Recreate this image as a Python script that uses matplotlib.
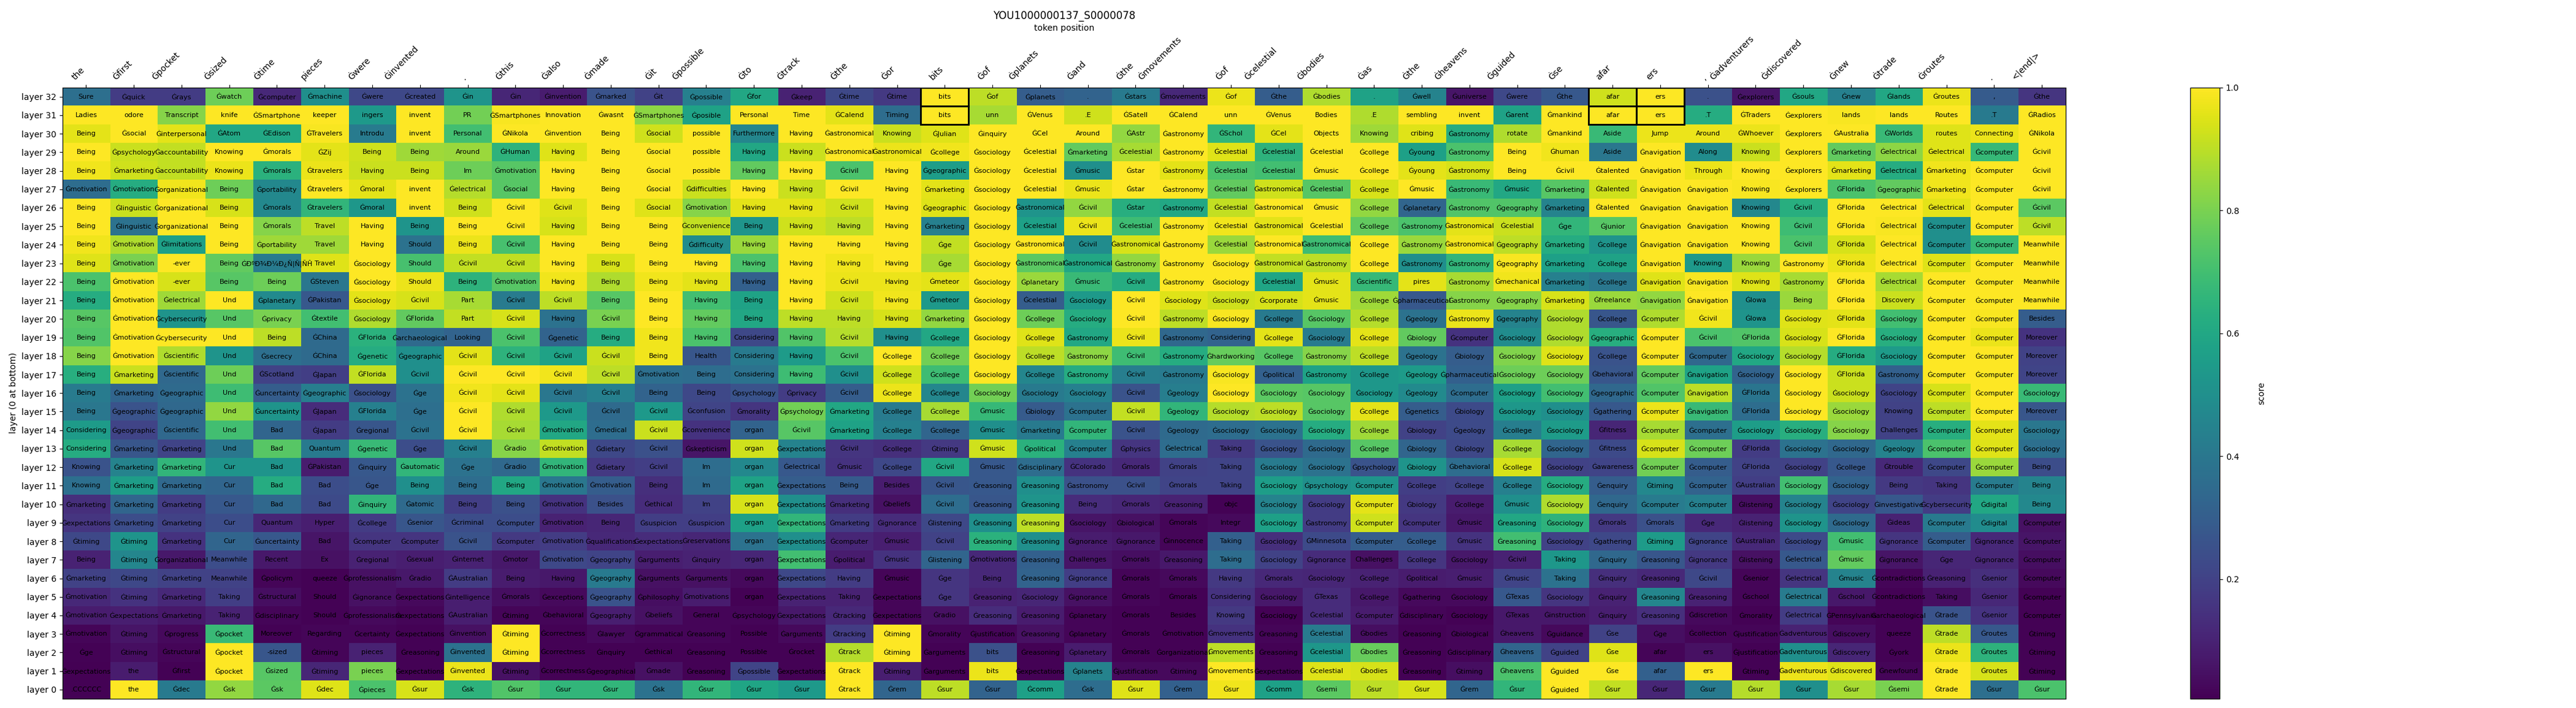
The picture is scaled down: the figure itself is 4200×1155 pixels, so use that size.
import matplotlib
matplotlib.use('Agg')
import matplotlib.pyplot as plt
import numpy as np
from matplotlib.patches import Rectangle

positions = ['the', 'Ġfirst', 'Ġpocket', 'Ġsized', 'Ġtime', 'pieces', 'Ġwere', 'Ġinvented', '.', 'Ġthis',
             'Ġalso', 'Ġmade', 'Ġit', 'Ġpossible', 'Ġto', 'Ġtrack', 'Ġthe', 'Ġor', 'bits', 'Ġof', 'Ġplanets',
             'Ġand', 'Ġthe', 'Ġmovements', 'Ġof', 'Ġcelestial', 'Ġbodies', 'Ġas', 'Ġthe', 'Ġheavens', 'Ġguided',
             'Ġse', 'afar', 'ers', ',', 'Ġadventurers', 'Ġdiscovered', 'Ġnew', 'Ġtrade', 'Ġroutes', '.', '<|end|>']
layers = [f'layer {i}' for i in range(33)]

# one list per token position, layer 32 first, layer 0 last
top_tokens = [
    ['Sure', 'Ladies', 'Being', 'Being', 'Being', 'Ġmotivation', 'Being', 'Being', 'Being', 'Being', 'Being', 'Being', 'Being', 'Being', 'Being', 'Being', 'Being', 'Being', 'Considering', 'Considering', 'Knowing', 'Knowing', 'Ġmarketing', 'Ġexpectations', 'Ġtiming', 'Being', 'Ġmarketing', 'Ġmotivation', 'Ġmotivation', 'Ġmotivation', 'Ġge', 'Ġexpectations', '.CCCCCC'],
    ['Ġquick', 'odore', 'Ġsocial', 'Ġpsychology', 'Ġmarketing', 'Ġmotivation', 'Ġlinguistic', 'Ġlinguistic', 'Ġmotivation', 'Ġmotivation', 'Ġmotivation', 'Ġmotivation', 'Ġmotivation', 'Ġmotivation', 'Ġmotivation', 'Ġmarketing', 'Ġmarketing', 'Ġgeographic', 'Ġgeographic', 'Ġmarketing', 'Ġmarketing', 'Ġmarketing', 'Ġmarketing', 'Ġmarketing', 'Ġtiming', 'Ġtiming', 'Ġtiming', 'Ġtiming', 'Ġexpectations', 'Ġtiming', 'Ġtiming', 'the', 'the'],
    ['Ġrays', 'Transcript', 'Ġinterpersonal', 'Ġaccountability', 'Ġaccountability', 'Ġorganizational', 'Ġorganizational', 'Ġorganizational', 'Ġlimitations', '-ever', '-ever', 'Ġelectrical', 'Ġcybersecurity', 'Ġcybersecurity', 'Ġscientific', 'Ġscientific', 'Ġgeographic', 'Ġgeographic', 'Ġscientific', 'Ġmarketing', 'Ġmarketing', 'Ġmarketing', 'Ġmarketing', 'Ġmarketing', 'Ġmarketing', 'Ġorganizational', 'Ġmarketing', 'Ġmarketing', 'Ġmarketing', 'Ġprogress', 'Ġstructural', 'Ġfirst', 'Ġdec'],
    ['Ġwatch', 'knife', 'ĠAtom', 'Knowing', 'Knowing', 'Being', 'Being', 'Being', 'Being', 'Being', 'Being', 'Und', 'Und', 'Und', 'Und', 'Und', 'Und', 'Und', 'Und', 'Und', 'Cur', 'Cur', 'Cur', 'Cur', 'Cur', 'Meanwhile', 'Meanwhile', 'Taking', 'Taking', 'Ġpocket', 'Ġpocket', 'Ġpocket', 'Ġsk'],
    ['Ġcomputer', 'ĠSmartphone', 'ĠEdison', 'Ġmorals', 'Ġmorals', 'Ġportability', 'Ġmorals', 'Ġmorals', 'Ġportability', 'ĠÐºÐ¾Ð¼Ð¿Ñ|Ñ|ÑĤ', 'Being', 'Ġplanetary', 'Ġprivacy', 'Being', 'Ġsecrecy', 'ĠScotland', 'Ġuncertainty', 'Ġuncertainty', 'Bad', 'Bad', 'Bad', 'Bad', 'Bad', 'Quantum', 'Ġuncertainty', 'Recent', 'Ġpolicym', 'Ġstructural', 'Ġdisciplinary', 'Moreover', '-sized', 'Ġsized', 'Ġsk'],
    ['Ġmachine', 'keeper', 'ĠTravelers', 'ĠZij', 'Ġtravelers', 'Ġtravelers', 'Ġtravelers', 'Travel', 'Travel', 'Travel', 'ĠSteven', 'ĠPakistan', 'Ġtextile', 'ĠChina', 'ĠChina', 'ĠJapan', 'Ġgeographic', 'ĠJapan', 'ĠJapan', 'Quantum', 'ĠPakistan', 'Bad', 'Bad', 'Hyper', 'Bad', 'Ex', 'queeze', 'Should', 'Should', 'Regarding', 'Ġtiming', 'Ġtiming', 'Ġdec'],
    ['Ġwere', 'ingers', 'Introdu', 'Being', 'Having', 'Ġmoral', 'Ġmoral', 'Having', 'Having', 'Ġsociology', 'Ġsociology', 'Ġsociology', 'Ġsociology', 'ĠFlorida', 'Ġgenetic', 'ĠFlorida', 'Ġsociology', 'ĠFlorida', 'Ġregional', 'Ġgenetic', 'Ġinquiry', 'Ġge', 'Ġinquiry', 'Ġcollege', 'Ġcomputer', 'Ġregional', 'Ġprofessionalism', 'Ġignorance', 'Ġprofessionalism', 'Ġcertainty', 'pieces', 'pieces', 'Ġpieces'],
    ['Ġcreated', 'invent', 'invent', 'Being', 'Being', 'invent', 'invent', 'Being', 'Should', 'Should', 'Should', 'Ġcivil', 'ĠFlorida', 'Ġarchaeological', 'Ġgeographic', 'Ġcivil', 'Ġge', 'Ġge', 'Ġcivil', 'Ġge', 'Ġautomatic', 'Being', 'Ġatomic', 'Ġsenior', 'Ġcomputer', 'Ġsexual', 'Ġradio', 'Ġexpectations', 'Ġexpectations', 'Ġexpectations', 'Ġreasoning', 'Ġexpectations', 'Ġsur'],
    ['Ġin', 'PR', 'Personal', 'Around', 'Im', 'Ġelectrical', 'Being', 'Being', 'Being', 'Ġcivil', 'Being', 'Part', 'Part', 'Looking', 'Ġcivil', 'Ġcivil', 'Ġcivil', 'Ġcivil', 'Ġcivil', 'Ġcivil', 'Ġge', 'Being', 'Being', 'Ġcriminal', 'Ġcivil', 'Ġinternet', 'ĠAustralian', 'Ġintelligence', 'ĠAustralian', 'Ġinvention', 'Ġinvented', 'Ġinvented', 'Ġsk'],
    ['Ġin', 'ĠSmartphones', 'ĠNikola', 'ĠHuman', 'Ġmotivation', 'Ġsocial', 'Ġcivil', 'Ġcivil', 'Ġcivil', 'Ġcivil', 'Ġmotivation', 'Ġcivil', 'Ġcivil', 'Ġcivil', 'Ġcivil', 'Ġcivil', 'Ġcivil', 'Ġcivil', 'Ġcivil', 'Ġradio', 'Ġradio', 'Being', 'Being', 'Ġcomputer', 'Ġcomputer', 'Ġmotor', 'Being', 'Ġmorals', 'Ġtiming', 'Ġtiming', 'Ġtiming', 'Ġtiming', 'Ġsur'],
    ['Ġinvention', 'Innovation', 'Ġinvention', 'Having', 'Having', 'Having', 'Ġcivil', 'Having', 'Having', 'Having', 'Having', 'Ġcivil', 'Having', 'Ġgenetic', 'Ġcivil', 'Ġcivil', 'Ġcivil', 'Ġcivil', 'Ġmotivation', 'Ġmotivation', 'Ġmotivation', 'Ġmotivation', 'Ġmotivation', 'Ġmotivation', 'Ġmotivation', 'Ġmotivation', 'Having', 'Ġexceptions', 'Ġbehavioral', 'Ġcorrectness', 'Ġcorrectness', 'Ġcorrectness', 'Ġsur'],
    ['Ġmarked', 'Ġwasnt', 'Being', 'Being', 'Being', 'Being', 'Being', 'Being', 'Being', 'Being', 'Being', 'Being', 'Ġcivil', 'Being', 'Ġcivil', 'Ġcivil', 'Ġcivil', 'Ġcivil', 'Ġmedical', 'Ġdietary', 'Ġdietary', 'Ġmotivation', 'Besides', 'Being', 'Ġqualifications', 'Ġgeography', 'Ġgeography', 'Ġgeography', 'Ġgeography', 'Ġlawyer', 'Ġinquiry', 'Ġgeographical', 'Ġsur'],
    ['Ġit', 'ĠSmartphones', 'Ġsocial', 'Ġsocial', 'Ġsocial', 'Ġsocial', 'Ġsocial', 'Being', 'Being', 'Being', 'Being', 'Being', 'Being', 'Being', 'Being', 'Ġmotivation', 'Being', 'Ġcivil', 'Ġcivil', 'Ġcivil', 'Ġcivil', 'Being', 'Ġethical', 'Ġsuspicion', 'Ġexpectations', 'Ġarguments', 'Ġarguments', 'Ġphilosophy', 'Ġbeliefs', 'Ġgrammatical', 'Ġethical', 'Ġmade', 'Ġsk'],
    ['Ġpossible', 'Ġposible', 'possible', 'possible', 'possible', 'Ġdifficulties', 'Ġmotivation', 'Ġconvenience', 'Ġdifficulty', 'Having', 'Having', 'Having', 'Having', 'Having', 'Health', 'Being', 'Being', 'Ġconfusion', 'Ġconvenience', 'Ġskepticism', 'Im', 'Im', 'Im', 'Ġsuspicion', 'Ġreservations', 'Ġinquiry', 'Ġarguments', 'Ġmotivations', 'General', 'Ġreasoning', 'Ġreasoning', 'Ġreasoning', 'Ġsur'],
    ['Ġfor', 'Personal', 'Furthermore', 'Having', 'Having', 'Having', 'Having', 'Being', 'Having', 'Having', 'Having', 'Being', 'Being', 'Considering', 'Considering', 'Considering', 'Ġpsychology', 'Ġmorality', 'organ', 'organ', 'organ', 'organ', 'organ', 'organ', 'organ', 'organ', 'organ', 'organ', 'Ġpsychology', 'Possible', 'Possible', 'Ġpossible', 'Ġsur'],
    ['Ġkeep', 'Time', 'Having', 'Having', 'Having', 'Having', 'Having', 'Having', 'Having', 'Having', 'Having', 'Having', 'Having', 'Having', 'Having', 'Having', 'Ġprivacy', 'Ġpsychology', 'Ġcivil', 'Ġexpectations', 'Ġelectrical', 'Ġexpectations', 'Ġexpectations', 'Ġexpectations', 'Ġexpectations', 'Ġexpectations', 'Ġexpectations', 'Ġexpectations', 'Ġexpectations', 'Ġarguments', 'Ġrocket', 'Ġexpectations', 'Ġsur'],
    ['Ġtime', 'ĠCalend', 'Ġastronomical', 'Ġastronomical', 'Ġcivil', 'Ġcivil', 'Ġcivil', 'Having', 'Having', 'Having', 'Ġcivil', 'Ġcivil', 'Having', 'Ġcivil', 'Ġcivil', 'Ġcivil', 'Ġcivil', 'Ġmarketing', 'Ġmarketing', 'Ġcivil', 'Ġmusic', 'Being', 'Ġmarketing', 'Ġmarketing', 'Ġcomputer', 'Ġpolitical', 'Having', 'Taking', 'Ġtracking', 'Ġtracking', 'Ġtrack', 'Ġtrack', 'Ġtrack'],
    ['Ġtime', 'Timing', 'Knowing', 'Ġastronomical', 'Having', 'Having', 'Having', 'Having', 'Having', 'Having', 'Having', 'Having', 'Having', 'Having', 'Ġcollege', 'Ġcollege', 'Ġcollege', 'Ġcollege', 'Ġcollege', 'Ġcollege', 'Ġcollege', 'Besides', 'Ġbeliefs', 'Ġignorance', 'Ġmusic', 'Ġmusic', 'Ġmusic', 'Ġexpectations', 'Ġexpectations', 'Ġtiming', 'Ġtiming', 'Ġtiming', 'Ġrem'],
    ['bits', 'bits', 'ĠJulian', 'Ġcollege', 'Ġgeographic', 'Ġmarketing', 'Ġgeographic', 'Ġmarketing', 'Ġge', 'Ġge', 'Ġmeteor', 'Ġmeteor', 'Ġmarketing', 'Ġcollege', 'Ġcollege', 'Ġcollege', 'Ġcollege', 'Ġcollege', 'Ġcollege', 'Ġtiming', 'Ġcivil', 'Ġcivil', 'Ġcivil', 'Ġlistening', 'Ġcivil', 'Ġlistening', 'Ġge', 'Ġge', 'Ġradio', 'Ġmorality', 'Ġarguments', 'Ġarguments', 'Ġsur'],
    ['Ġof', 'unn', 'Ġinquiry', 'Ġsociology', 'Ġsociology', 'Ġsociology', 'Ġsociology', 'Ġsociology', 'Ġsociology', 'Ġsociology', 'Ġsociology', 'Ġsociology', 'Ġsociology', 'Ġsociology', 'Ġsociology', 'Ġsociology', 'Ġsociology', 'Ġmusic', 'Ġmusic', 'Ġmusic', 'Ġmusic', 'Ġreasoning', 'Ġreasoning', 'Ġreasoning', 'Ġreasoning', 'Ġmotivations', 'Being', 'Ġreasoning', 'Ġreasoning', 'Ġjustification', 'bits', 'bits', 'Ġsur'],
    ['Ġplanets', 'ĠVenus', 'ĠCel', 'Ġcelestial', 'Ġcelestial', 'Ġcelestial', 'Ġastronomical', 'Ġcelestial', 'Ġastronomical', 'Ġastronomical', 'Ġplanetary', 'Ġcelestial', 'Ġcollege', 'Ġcollege', 'Ġcollege', 'Ġcollege', 'Ġsociology', 'Ġbiology', 'Ġmarketing', 'Ġpolitical', 'Ġdisciplinary', 'Ġreasoning', 'Ġreasoning', 'Ġreasoning', 'Ġreasoning', 'Ġreasoning', 'Ġreasoning', 'Ġsociology', 'Ġreasoning', 'Ġreasoning', 'Ġreasoning', 'Ġexpectations', 'Ġcomm'],
    ['.', '.E', 'Around', 'Ġmarketing', 'Ġmusic', 'Ġmusic', 'Ġcivil', 'Ġcivil', 'Ġcivil', 'Ġastronomical', 'Ġmusic', 'Ġsociology', 'Ġsociology', 'Ġastronomy', 'Ġastronomy', 'Ġastronomy', 'Ġsociology', 'Ġcomputer', 'Ġcomputer', 'Ġcomputer', 'ĠColorado', 'Ġastronomy', 'Being', 'Ġsociology', 'Ġignorance', 'Challenges', 'Ġignorance', 'Ġignorance', 'Ġplanetary', 'Ġplanetary', 'Ġplanetary', 'Ġplanets', 'Ġsk'],
    ['Ġstars', 'ĠSatell', 'ĠAstr', 'Ġcelestial', 'Ġstar', 'Ġstar', 'Ġstar', 'Ġcelestial', 'Ġastronomical', 'Ġastronomy', 'Ġcivil', 'Ġcivil', 'Ġcivil', 'Ġcivil', 'Ġcivil', 'Ġcivil', 'Ġcivil', 'Ġcivil', 'Ġcivil', 'Ġphysics', 'Ġmorals', 'Ġcivil', 'Ġmorals', 'Ġbiological', 'Ġignorance', 'Ġmorals', 'Ġmorals', 'Ġmorals', 'Ġmorals', 'Ġmorals', 'Ġmorals', 'Ġjustification', 'Ġsur'],
    ['Ġmovements', 'ĠCalend', 'Ġastronomy', 'Ġastronomy', 'Ġastronomy', 'Ġastronomy', 'Ġastronomy', 'Ġastronomy', 'Ġastronomy', 'Ġastronomy', 'Ġastronomy', 'Ġsociology', 'Ġastronomy', 'Ġastronomy', 'Ġastronomy', 'Ġastronomy', 'Ġgeology', 'Ġgeology', 'Ġgeology', 'Ġelectrical', 'Ġmorals', 'Ġmorals', 'Ġreasoning', 'Ġmorals', 'Ġinnocence', 'Ġreasoning', 'Ġmorals', 'Ġmorals', 'Besides', 'Ġmotivation', 'Ġorganizational', 'Ġtiming', 'Ġrem'],
    ['Ġof', 'unn', 'ĠSchol', 'Ġcelestial', 'Ġcelestial', 'Ġcelestial', 'Ġcelestial', 'Ġcelestial', 'Ġcelestial', 'Ġsociology', 'Ġsociology', 'Ġsociology', 'Ġsociology', 'Considering', 'Ġhardworking', 'Ġsociology', 'Ġsociology', 'Ġsociology', 'Ġsociology', 'Taking', 'Taking', 'Taking', 'objc', 'Integr', 'Taking', 'Taking', 'Having', 'Considering', 'Knowing', 'Ġmovements', 'Ġmovements', 'Ġmovements', 'Ġsur'],
    ['Ġthe', 'ĠVenus', 'ĠCel', 'Ġcelestial', 'Ġcelestial', 'Ġastronomical', 'Ġastronomical', 'Ġastronomical', 'Ġastronomical', 'Ġastronomical', 'Ġcelestial', 'Ġcorporate', 'Ġcollege', 'Ġcollege', 'Ġcollege', 'Ġpolitical', 'Ġsociology', 'Ġsociology', 'Ġsociology', 'Ġsociology', 'Ġsociology', 'Ġsociology', 'Ġsociology', 'Ġsociology', 'Ġsociology', 'Ġsociology', 'Ġmorals', 'Ġsociology', 'Ġsociology', 'Ġreasoning', 'Ġreasoning', 'Ġexpectations', 'Ġcomm'],
    ['Ġbodies', 'Bodies', 'Objects', 'Ġcelestial', 'Ġmusic', 'Ġcelestial', 'Ġmusic', 'Ġcelestial', 'Ġastronomical', 'Ġastronomy', 'Ġmusic', 'Ġmusic', 'Ġsociology', 'Ġsociology', 'Ġastronomy', 'Ġastronomy', 'Ġsociology', 'Ġsociology', 'Ġsociology', 'Ġsociology', 'Ġsociology', 'Ġpsychology', 'Ġsociology', 'Ġastronomy', 'ĠMinnesota', 'Ġignorance', 'Ġsociology', 'ĠTexas', 'Ġcelestial', 'Ġcelestial', 'Ġcelestial', 'Ġcelestial', 'Ġsemi'],
    ['.', '.E', 'Knowing', 'Ġcollege', 'Ġcollege', 'Ġcollege', 'Ġcollege', 'Ġcollege', 'Ġcollege', 'Ġcollege', 'Ġscientific', 'Ġcollege', 'Ġcollege', 'Ġcollege', 'Ġcollege', 'Ġcollege', 'Ġsociology', 'Ġcollege', 'Ġcollege', 'Ġcollege', 'Ġpsychology', 'Ġcomputer', 'Ġcomputer', 'Ġcomputer', 'Ġcomputer', 'Challenges', 'Ġcollege', 'Ġcollege', 'Ġcomputer', 'Ġbodies', 'Ġbodies', 'Ġbodies', 'Ġsur'],
    ['Ġwell', 'sembling', 'cribing', 'Ġyoung', 'Ġyoung', 'Ġmusic', 'Ġplanetary', 'Ġastronomy', 'Ġastronomy', 'Ġastronomy', 'pires', 'Ġpharmaceutical', 'Ġgeology', 'Ġbiology', 'Ġgeology', 'Ġgeology', 'Ġgeology', 'Ġgenetics', 'Ġbiology', 'Ġbiology', 'Ġbiology', 'Ġcollege', 'Ġbiology', 'Ġcomputer', 'Ġcollege', 'Ġcollege', 'Ġpolitical', 'Ġgathering', 'Ġdisciplinary', 'Ġreasoning', 'Ġreasoning', 'Ġreasoning', 'Ġsur'],
    ['Ġuniverse', 'invent', 'Ġastronomy', 'Ġastronomy', 'Ġastronomy', 'Ġastronomy', 'Ġastronomy', 'Ġastronomical', 'Ġastronomical', 'Ġastronomy', 'Ġastronomy', 'Ġastronomy', 'Ġastronomy', 'Ġcomputer', 'Ġbiology', 'Ġpharmaceutical', 'Ġcomputer', 'Ġbiology', 'Ġgeology', 'Ġbiology', 'Ġbehavioral', 'Ġcollege', 'Ġcollege', 'Ġmusic', 'Ġmusic', 'Ġsociology', 'Ġmusic', 'Ġsociology', 'Ġsociology', 'Ġbiological', 'Ġdisciplinary', 'Ġtiming', 'Ġrem'],
    ['Ġwere', 'Ġarent', 'rotate', 'Being', 'Being', 'Ġmusic', 'Ġgeography', 'Ġcelestial', 'Ġgeography', 'Ġgeography', 'Ġmechanical', 'Ġgeography', 'Ġgeography', 'Ġsociology', 'Ġsociology', 'Ġsociology', 'Ġsociology', 'Ġsociology', 'Ġcollege', 'Ġcollege', 'Ġcollege', 'Ġcollege', 'Ġmusic', 'Ġreasoning', 'Ġreasoning', 'Ġcivil', 'Ġmusic', 'ĠTexas', 'ĠTexas', 'Ġheavens', 'Ġheavens', 'Ġheavens', 'Ġsur'],
    ['Ġthe', 'Ġmankind', 'Ġmankind', 'Ġhuman', 'Ġcivil', 'Ġmarketing', 'Ġmarketing', 'Ġge', 'Ġmarketing', 'Ġmarketing', 'Ġmarketing', 'Ġmarketing', 'Ġsociology', 'Ġsociology', 'Ġsociology', 'Ġsociology', 'Ġsociology', 'Ġsociology', 'Ġsociology', 'Ġsociology', 'Ġsociology', 'Ġsociology', 'Ġsociology', 'Ġsociology', 'Ġsociology', 'Taking', 'Taking', 'Ġsociology', 'Ġinstruction', 'Ġguidance', 'Ġguided', 'Ġguided', 'Ġguided'],
    ['afar', 'afar', 'Aside', 'Aside', 'Ġtalented', 'Ġtalented', 'Ġtalented', 'Ġjunior', 'Ġcollege', 'Ġcollege', 'Ġcollege', 'Ġfreelance', 'Ġcollege', 'Ġgeographic', 'Ġcollege', 'Ġbehavioral', 'Ġgeographic', 'Ġgathering', 'Ġfitness', 'Ġfitness', 'Ġawareness', 'Ġenquiry', 'Ġenquiry', 'Ġmorals', 'Ġgathering', 'Ġinquiry', 'Ġinquiry', 'Ġinquiry', 'Ġinquiry', 'Ġse', 'Ġse', 'Ġse', 'Ġsur'],
    ['ers', 'ers', 'Jump', 'Ġnavigation', 'Ġnavigation', 'Ġnavigation', 'Ġnavigation', 'Ġnavigation', 'Ġnavigation', 'Ġnavigation', 'Ġnavigation', 'Ġnavigation', 'Ġcomputer', 'Ġcomputer', 'Ġcomputer', 'Ġcomputer', 'Ġcomputer', 'Ġcomputer', 'Ġcomputer', 'Ġcomputer', 'Ġcomputer', 'Ġtiming', 'Ġcomputer', 'Ġmorals', 'Ġtiming', 'Ġreasoning', 'Ġreasoning', 'Ġreasoning', 'Ġreasoning', 'Ġge', 'afar', 'afar', 'Ġsur'],
    ['.', '.T', 'Around', 'Along', 'Through', 'Ġnavigation', 'Ġnavigation', 'Ġnavigation', 'Ġnavigation', 'Knowing', 'Ġnavigation', 'Ġnavigation', 'Ġcivil', 'Ġcivil', 'Ġcomputer', 'Ġnavigation', 'Ġnavigation', 'Ġnavigation', 'Ġcomputer', 'Ġcomputer', 'Ġcomputer', 'Ġcomputer', 'Ġcomputer', 'Ġge', 'Ġignorance', 'Ġignorance', 'Ġcivil', 'Ġreasoning', 'Ġdiscretion', 'Ġcollection', 'ers', 'ers', 'Ġsur'],
    ['Ġexplorers', 'ĠTraders', 'ĠWhoever', 'Knowing', 'Knowing', 'Knowing', 'Knowing', 'Knowing', 'Knowing', 'Knowing', 'Knowing', 'ĠIowa', 'ĠIowa', 'ĠFlorida', 'Ġsociology', 'Ġsociology', 'ĠFlorida', 'ĠFlorida', 'Ġsociology', 'ĠFlorida', 'ĠFlorida', 'ĠAustralian', 'Ġlistening', 'Ġlistening', 'ĠAustralian', 'Ġlistening', 'Ġsenior', 'Ġschool', 'Ġmorality', 'Ġjustification', 'Ġjustification', 'Ġtiming', 'Ġsur'],
    ['Ġsouls', 'Ġexplorers', 'Ġexplorers', 'Ġexplorers', 'Ġexplorers', 'Ġexplorers', 'Ġcivil', 'Ġcivil', 'Ġcivil', 'Ġastronomy', 'Ġastronomy', 'Being', 'Ġsociology', 'Ġsociology', 'Ġsociology', 'Ġsociology', 'Ġsociology', 'Ġsociology', 'Ġsociology', 'Ġsociology', 'Ġsociology', 'Ġsociology', 'Ġsociology', 'Ġsociology', 'Ġsociology', 'Ġelectrical', 'Ġelectrical', 'Ġelectrical', 'Ġelectrical', 'Ġadventurous', 'Ġadventurous', 'Ġadventurous', 'Ġsur'],
    ['Ġnew', 'lands', 'ĠAustralia', 'Ġmarketing', 'Ġmarketing', 'ĠFlorida', 'ĠFlorida', 'ĠFlorida', 'ĠFlorida', 'ĠFlorida', 'ĠFlorida', 'ĠFlorida', 'ĠFlorida', 'ĠFlorida', 'ĠFlorida', 'ĠFlorida', 'Ġsociology', 'Ġsociology', 'Ġsociology', 'Ġsociology', 'Ġcollege', 'Ġsociology', 'Ġsociology', 'Ġsociology', 'Ġmusic', 'Ġmusic', 'Ġmusic', 'Ġschool', 'ĠPennsylvania', 'Ġdiscovery', 'Ġdiscovery', 'Ġdiscovered', 'Ġsur'],
    ['Ġlands', 'lands', 'ĠWorlds', 'Ġelectrical', 'Ġelectrical', 'Ġgeographic', 'Ġelectrical', 'Ġelectrical', 'Ġelectrical', 'Ġelectrical', 'Ġelectrical', 'Discovery', 'Ġsociology', 'Ġsociology', 'Ġsociology', 'Ġastronomy', 'Ġsociology', 'Knowing', 'Challenges', 'Ġgeology', 'Ġtrouble', 'Being', 'Ġinvestigative', 'Ġideas', 'Ġignorance', 'Ġignorance', 'Ġcontradictions', 'Ġcontradictions', 'Ġarchaeological', 'queeze', 'Ġyork', 'Ġnewfound', 'Ġsemi'],
    ['Ġroutes', 'Routes', 'routes', 'Ġelectrical', 'Ġmarketing', 'Ġmarketing', 'Ġelectrical', 'Ġcomputer', 'Ġcomputer', 'Ġcomputer', 'Ġcomputer', 'Ġcomputer', 'Ġcomputer', 'Ġcomputer', 'Ġcomputer', 'Ġcomputer', 'Ġcomputer', 'Ġcomputer', 'Ġcomputer', 'Ġcomputer', 'Ġcomputer', 'Taking', 'Ġcybersecurity', 'Ġcomputer', 'Ġcomputer', 'Ġge', 'Ġreasoning', 'Taking', 'Ġtrade', 'Ġtrade', 'Ġtrade', 'Ġtrade', 'Ġtrade'],
    [',', '.T', 'Connecting', 'Ġcomputer', 'Ġcomputer', 'Ġcomputer', 'Ġcomputer', 'Ġcomputer', 'Ġcomputer', 'Ġcomputer', 'Ġcomputer', 'Ġcomputer', 'Ġcomputer', 'Ġcomputer', 'Ġcomputer', 'Ġcomputer', 'Ġcomputer', 'Ġcomputer', 'Ġcomputer', 'Ġcomputer', 'Ġcomputer', 'Ġcomputer', 'Ġdigital', 'Ġdigital', 'Ġignorance', 'Ġignorance', 'Ġsenior', 'Ġsenior', 'Ġsenior', 'Ġroutes', 'Ġroutes', 'Ġroutes', 'Ġsur'],
    ['Ġthe', 'ĠRadios', 'ĠNikola', 'Ġcivil', 'Ġcivil', 'Ġcivil', 'Ġcivil', 'Ġcivil', 'Meanwhile', 'Meanwhile', 'Meanwhile', 'Meanwhile', 'Besides', 'Moreover', 'Moreover', 'Moreover', 'Ġsociology', 'Moreover', 'Ġsociology', 'Ġsociology', 'Being', 'Being', 'Being', 'Ġcomputer', 'Ġcomputer', 'Ġcomputer', 'Ġcomputer', 'Ġcomputer', 'Ġcomputer', 'Ġtiming', 'Ġtiming', 'Ġtiming', 'Ġsur'],
]

# score of the top token, same order
top_scores = [
    [.37, 1, .96, 1, .98, .36, 1, 1, .98, .95, .72, .62, .74, .73, .82, .63, .42, .40, .55, .62, .26, .37, .14, .16, .22, .10, .20, .12, .08, .02, .01, .005, .01],
    [.18, 1, 1, .92, .93, .62, .92, .38, .88, .80, 1, 1, 1, 1, 1, .92, .33, .26, .21, .27, .45, .56, .33, .24, .52, .46, .22, .15, .09, .06, .04, .08, 1],
    [.18, .82, .96, .91, .91, .98, 1, 1, .57, 1, .94, .86, .52, 1, .88, .34, .35, .34, .34, .21, .66, .34, .18, .20, .15, .07, .20, .12, .07, .03, .02, .01, .41],
    [.78, 1, .60, 1, .97, .78, .94, 1, 1, .76, .74, 1, .74, 1, .52, .78, .69, .84, .70, .40, .52, .33, .28, .24, .33, .24, .20, .19, .10, .68, 1, 1, .84],
    [.12, 1, .60, 1, .64, .47, .47, .82, .86, .42, .78, .48, .80, .90, .37, .20, .30, .52, .33, .74, .52, .62, .34, .11, .28, .07, .02, .04, .02, .01, .27, .74, .75],
    [.50, 1, .99, .96, .97, 1, .66, .90, .86, .95, .40, .28, .70, .35, .35, .19, .43, .13, .18, .41, .08, .24, .23, .09, .06, .05, .01, .01, .01, .02, .02, .11, .95],
    [.22, .54, .42, .93, .92, .96, .53, 1, 1, 1, 1, .96, .88, .64, .62, .91, .25, .44, .27, .68, .28, .27, .66, .18, .16, .10, .05, .05, .03, .02, .10, .80, .72],
    [.22, 1, 1, .86, .92, 1, 1, .52, .38, .71, .97, .94, .76, .35, .50, .50, .38, .37, .38, .24, .66, .50, .35, .27, .16, .09, .07, .03, .02, .01, .01, .01, .94],
    [.52, .79, .70, .85, .78, .89, .93, 1, .97, .91, .65, .87, .91, .32, .96, 1, .98, 1, 1, .44, .38, .36, .19, .24, .26, .10, .18, .09, .09, .05, .38, .97, .65],
    [.11, .99, 1, .65, .74, .74, 1, 1, .71, .91, .74, .42, .94, .72, .65, 1, .96, .88, .87, .82, .34, .60, .25, .24, .17, .07, .08, .04, .02, 1, 1, .05, .73],
    [.08, 1, 1, .95, 1, 1, .95, .94, 1, 1, .98, .90, .38, .32, .58, .98, .40, .54, .60, .91, .66, .40, .15, .10, .18, .22, .07, .03, .02, .01, .01, .01, .66],
    [.26, 1, 1, 1, 1, 1, 1, 1, 1, .94, .88, .74, .80, .62, .92, .90, .44, .35, .36, .22, .17, .30, .25, .11, .12, .21, .41, .26, .09, .03, .01, .01, .66],
    [.20, .83, .93, 1, 1, 1, .95, 1, 1, 1, .98, 1, 1, .98, .98, .37, .32, .54, .92, .25, .19, .14, .13, .19, .13, .09, .05, .04, .05, .02, .01, .05, .38],
    [.44, .58, 1, 1, 1, .92, .82, .91, .49, 1, .96, .70, .76, .72, .27, .36, .22, .21, .15, .06, .36, .35, .20, .19, .11, .10, .05, .08, .02, .02, .01, .01, .66],
    [.60, 1, .46, .60, .76, 1, .96, .52, .85, .72, .31, .58, .60, .22, .41, .38, .26, .16, .32, .93, .47, .58, .94, .57, .38, .11, .03, .01, .02, .01, .01, .21, .59],
    [.10, 1, 1, .92, 1, .92, .96, .93, 1, 1, 1, 1, .90, .73, .55, .69, .18, .79, .74, .45, .28, .30, .50, .66, .50, .70, .22, .10, .07, .03, .01, .01, .54],
    [.22, .96, 1, 1, .72, 1, .93, .90, 1, .98, .97, .93, .90, .89, .72, .50, .30, .60, .58, .16, .15, .29, .14, .18, .11, .08, .18, .10, .12, .18, .89, 1, 1],
    [.17, .36, .92, .97, 1, 1, 1, 1, 1, 1, .97, .98, .94, .50, 1, .93, .97, .42, .44, .14, .22, .08, .05, .13, .09, .15, .02, .02, .02, 1, 1, .09, .33],
    [1, 1, .95, .98, .56, .96, .95, .44, .91, .87, .96, .54, .84, .60, .79, .69, .46, .87, .33, .17, .60, .27, .36, .22, .20, .33, .16, .16, .05, .02, .01, .01, .90],
    [.90, .87, 1, 1, 1, 1, 1, 1, 1, 1, 1, 1, 1, 1, 1, 1, .79, .67, .50, .93, .28, .28, .27, .50, .64, .12, .12, .10, .13, .02, .25, .97, .32],
    [.30, 1, 1, 1, 1, 1, .52, .57, 1, .75, .85, .30, .78, .95, .90, .46, .41, .29, .41, .64, .36, .50, .52, .90, .50, .31, .32, .11, .08, .05, .01, .01, .57],
    [.32, .93, 1, .76, .50, .97, .84, .97, .49, .60, .68, .54, .62, .60, .83, .62, .44, .38, .66, .44, .15, .25, .13, .06, .08, .06, .19, .05, .02, .02, .08, .45, .36],
    [.41, 1, .84, .87, 1, 1, .63, .69, .94, .84, .62, 1, 1, .97, .69, .43, .26, .91, .26, .16, .12, .25, .11, .05, .07, .04, .02, .02, .01, .01, .01, .03, .95],
    [.12, 1, 1, 1, .96, 1, .60, 1, 1, 1, 1, .95, .90, .34, .62, .41, .43, .66, .35, .36, .20, .21, .10, .02, .02, .07, .03, .01, .01, .01, .01, .03, .31],
    [.97, 1, .66, .95, .72, .76, .91, .98, .85, 1, 1, .93, .99, .32, .77, .99, 1, .89, .36, .17, .21, .21, .01, .03, .31, .36, .17, .15, .17, .15, .90, 1, .98],
    [.30, 1, .96, .65, .70, .93, 1, .96, 1, .91, .59, .94, .41, .96, .74, .31, .75, .90, .38, .26, .42, .56, .45, .57, .14, .20, .12, .07, .01, .02, .01, .01, .57],
    [.88, 1, 1, 1, 1, .74, 1, 1, .69, .90, .96, .96, .74, .42, .82, .58, .74, .74, .62, .35, .38, .50, .18, .18, .23, .13, .11, .13, .13, .42, .53, .95, .75],
    [.58, .88, .86, 1, 1, .94, .84, .76, 1, 1, .67, .86, .89, .96, .90, .53, .53, .96, .86, .74, .26, .52, .96, .93, .30, .05, .10, .07, .08, .04, .77, .94, .90],
    [.45, 1, .95, .57, .96, 1, .33, .72, .85, .50, .96, .28, .38, .76, .38, .55, .48, .30, .20, .33, .52, .19, .17, .16, .30, .16, .08, .03, .02, .01, .01, .01, .94],
    [.06, 1, .62, .72, .94, .68, .73, .96, .98, .66, .87, .82, .97, .15, .30, .31, .36, .23, .23, .22, .36, .20, .08, .07, .15, .07, .09, .03, .01, .02, .02, .04, .33],
    [.22, .58, .88, 1, 1, .60, .73, .92, .90, .99, .98, .82, .45, .49, .81, .78, .57, .53, .43, .87, .94, .44, .50, .60, .70, .10, .21, .28, .07, .07, .33, .72, .66],
    [.28, 1, 1, .98, 1, .74, .45, .66, .62, .57, .44, .94, .88, .88, .95, .78, .70, .50, .55, .33, .20, .62, .88, .65, .20, .53, .38, .16, .07, .03, .20, 1, 1],
    [.93, 1, .68, .40, 1, .93, 1, .74, .52, .58, .40, .85, .27, .63, .26, .27, .34, .28, .11, .23, .21, .30, .34, .17, .22, .34, .14, .10, .09, .20, .95, 1, .91],
    [1, 1, .97, 1, 1, 1, 1, 1, 1, 1, .95, .84, .88, 1, 1, .76, .73, .97, .87, .94, .79, .47, .42, .25, .55, .27, .12, .46, .14, .04, .02, .31, .11],
    [.25, .62, .97, .49, .97, 1, 1, 1, 1, .54, .99, 1, .98, .72, .34, .58, .90, .68, .37, .78, .30, .32, .44, .12, .21, .17, .22, .10, .03, .02, .05, 1, .41],
    [.06, 1, .97, .92, 1, .99, .47, 1, 1, .85, .95, .50, .52, .73, .60, .32, .39, .36, .56, .18, .20, .19, .04, .10, .12, .05, .02, .02, .01, .02, .01, .01, .89],
    [.60, 1, 1, 1, 1, 1, .63, .69, .72, 1, .87, .85, .95, .94, .89, 1, 1, 1, .63, .38, .20, .70, .45, .52, .23, .28, .16, .42, .18, .10, .50, .97, .50],
    [.44, .99, 1, .76, .96, .72, 1, 1, .94, .97, 1, 1, .96, 1, .62, .92, .92, .85, .82, .34, .28, .32, .21, .35, .70, .76, .45, .07, .02, .04, .11, .95, .87],
    [.60, 1, .68, .83, .62, .76, 1, .99, 1, 1, .87, .92, .70, .63, .55, .31, .21, .20, .20, .45, .12, .17, .28, .10, .16, .06, .02, .01, .01, .01, .01, .02, .80],
    [.97, 1, .95, .95, .98, .98, .96, .50, .50, .95, 1, 1, 1, 1, 1, 1, .94, .90, .63, .72, .22, .16, .18, .41, .30, .11, .10, .04, .26, .90, .97, 1, 1],
    [.29, .41, .97, .67, 1, 1, 1, 1, .67, 1, 1, 1, .99, .97, 1, 1, 1, 1, .96, .95, .85, .42, .60, .49, .12, .11, .14, .12, .15, .28, .65, .94, .37],
    [.16, 1, 1, 1, 1, 1, .75, .90, 1, 1, 1, 1, .30, .15, .20, .21, .68, .27, .40, .37, .24, .45, .47, .05, .06, .04, .03, .01, .01, .01, .01, .01, .72],
]

# cells outlined in black: (token position, layer)
marked_cells = [(18, 32), (18, 31), (32, 32), (32, 31), (33, 32), (33, 31)]

scores = np.array(top_scores, dtype=float).T[::-1]
tokens = np.array(top_tokens, dtype=object).T[::-1]
n_layers, n_pos = scores.shape

fig = plt.figure(figsize=(42, 11.55), dpi=100)
ax = fig.add_axes([101.5 / 4200, 1 - 1140 / 1155, (3368 - 101.5) / 4200, (1140 - 142.5) / 1155])

im = ax.imshow(scores, aspect='auto', origin='lower', cmap='viridis', vmin=scores.min(), vmax=1.0)

for i in range(n_layers):
    for j in range(n_pos):
        ax.text(j, i, tokens[i, j], ha='center', va='center', fontsize=8, color='black')

for x, y in marked_cells:
    ax.add_patch(Rectangle((x - 0.5, y - 0.5), 1, 1, fill=False, edgecolor='black', linewidth=2))

ax.xaxis.tick_top()
ax.xaxis.set_label_position('top')
ax.set_xticks(range(n_pos))
ax.set_xticklabels(positions, rotation=45, ha='right', fontsize=10)
ax.set_yticks(range(n_layers))
ax.set_yticklabels(layers, fontsize=10)
ax.set_xlabel('token position')
ax.set_ylabel('layer (0 at bottom)')
ax.set_title('YOU1000000137_S0000078', fontsize=12)

cax = fig.add_axes([3571 / 4200, 1 - 1140 / 1155, 48 / 4200, (1140 - 142.5) / 1155])
cbar = fig.colorbar(im, cax=cax)
cbar.set_label('score', labelpad=21)

fig.savefig('out.png', dpi=100)
